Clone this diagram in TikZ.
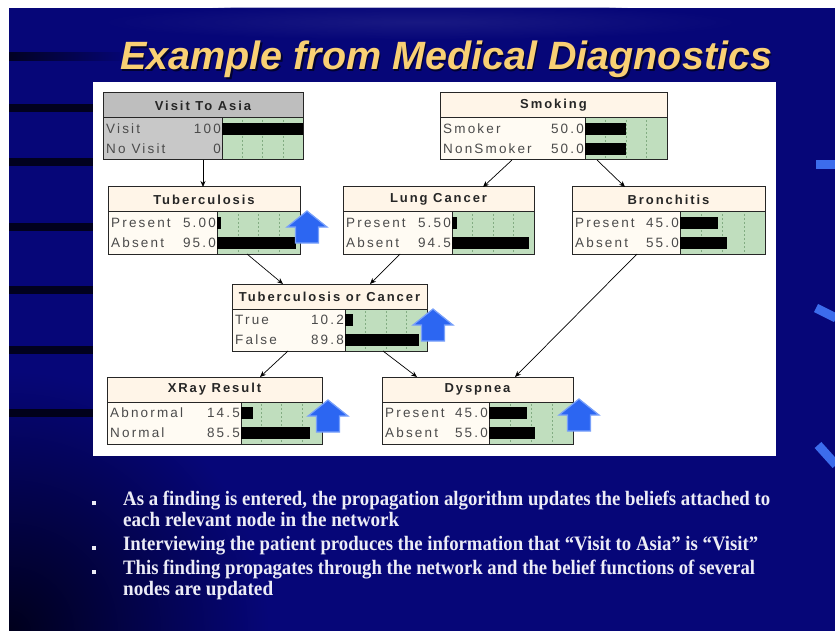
\documentclass[tikz,border=0pt]{standalone}
\usepackage{fontspec}
\usepackage{graphicx}
\usetikzlibrary{arrows.meta}
\setmainfont{Liberation Serif}
\newfontfamily\headfont{Liberation Sans}
\newfontfamily\nettitlefont[LetterSpace=15]{Liberation Sans}
\newfontfamily\netrowfont[LetterSpace=16]{Liberation Sans}

\definecolor{slide}{RGB}{6,6,120}
\definecolor{slidedark}{RGB}{0,0,28}
\definecolor{gold}{RGB}{249,208,116}
\definecolor{bullettext}{RGB}{236,236,246}
\definecolor{barbg}{RGB}{192,222,190}
\definecolor{gridgreen}{RGB}{130,172,130}
\definecolor{headcream}{RGB}{255,245,232}
\definecolor{labelcream}{RGB}{255,251,243}
\definecolor{headgray}{RGB}{190,190,190}
\definecolor{labelgray}{RGB}{200,200,200}
\definecolor{findblue}{RGB}{44,102,242}
\definecolor{findglow}{RGB}{120,160,250}
\definecolor{markblue}{RGB}{60,108,236}
\definecolor{rowgray}{RGB}{75,75,75}

\tikzset{
  netbox/.style={draw=black!85, line width=1pt, inner sep=0pt, outer sep=0pt, rectangle},
  netrule/.style={draw=black!85, line width=1pt},
  gridline/.style={draw=gridgreen, line width=0.5pt, dash pattern=on 2pt off 2pt},
  nettitle/.style={inner sep=0pt, text=black!85, font={\nettitlefont\bfseries\fontsize{13}{15}\selectfont}},
  rowtext/.style={inner sep=0pt, text=rowgray, font={\netrowfont\fontsize{13.5}{15}\selectfont}},
  conn/.style={draw=black, line width=0.7pt, -{Stealth[length=6pt,width=5pt]}},
  finding/.style={fill=findblue, draw=findglow, line width=1.2pt, line join=miter},
  headline/.style={inner sep=0pt, anchor=base west, font={\headfont\bfseries\itshape\fontsize{39.5}{44}\selectfont}},
  bulletline/.style={inner sep=0pt, anchor=mid west, text=bullettext, font={\bfseries\fontsize{20.5}{24}\selectfont}},
  stripe/.style={fill=black, opacity=0.75},
}

% #1 name, #2 left, #3 top, #4 right, #5 divider, #6 title, #7 head fill, #8 label fill
\newcommand\netnode[8]{%
  \fill[#7] (#2,#3) rectangle (#4,#3+25);
  \fill[#8] (#2,#3+25) rectangle (#5,#3+67);
  \fill[barbg] (#5,#3+25) rectangle (#4,#3+67);
  \foreach \q in {0.25,0.5,0.75}
    \draw[gridline] ({#5+\q*(#4-#5)},#3+27) -- ({#5+\q*(#4-#5)},#3+66);
  \node[netbox, minimum width={#4pt-#2pt}, minimum height=67pt, anchor=north west] (#1) at (#2,#3) {};
  \draw[netrule] (#2,#3+25) -- (#4,#3+25) (#5,#3+25) -- (#5,#3+67);
  \node[nettitle] (#1-title) at ({(#2+#4)/2},#3+12.5) {#6};
}
% #1 row name, #2 left, #3 divider, #4 right, #5 y, #6 label, #7 value, #8 fraction
\newcommand\netrow[8]{%
  \node[rowtext, anchor=west] (#1-label) at (#2+3,#5) {#6};
  \node[rowtext, anchor=east] (#1-value) at (#3-1,#5) {#7};
  \fill[black] (#3,#5-6) rectangle ({#3+#8*(#4-#3)},#5+6);
}
% upward block arrow with its tip at (#1,#2)
\newcommand\findarrow[2]{%
  \filldraw[finding] (#1,#2) -- (#1+20,#2+16) -- (#1+11.5,#2+16) -- (#1+11.5,#2+32)
    -- (#1-11.5,#2+32) -- (#1-11.5,#2+16) -- (#1-20,#2+16) -- cycle;
}

\begin{document}
\begin{tikzpicture}[x=1pt,y=-1pt]
\useasboundingbox (0,0) rectangle (835,631);
\fill[white] (0,0) rectangle (835,631);

% slide background
\fill[slide] (9,8) rectangle (835,631);
\begin{scope}
  \clip (9,8) rectangle (835,631);
  \shade[inner color=slidedark, outer color=slide] (9,631) circle (260);
  \shade[inner color=slide!75!white, outer color=slide, opacity=0.3] (420,22) ellipse (330 and 18);
  % dark stripes along the left edge
  \foreach \yy in {108,162,227,290,350,413}
    \fill[stripe] (9,\yy-4) rectangle (95,\yy+4);
  \shade[left color=black, right color=slide, opacity=0.7] (9,53) rectangle (130,61);
  % light marks on the right edge
  \draw[markblue, line width=9pt] (816,165) -- (836,165);
  \draw[markblue, line width=9pt] (816,308) -- (836,318);
  \draw[markblue, line width=9pt] (818,445) -- (836,465);
\end{scope}

% title
\node[headline, text=black, opacity=0.6] (headshadow) at (121.5,71.5) {Example from Medical Diagnostics};
\node[headline, text=gold] (head) at (120,70) {Example from Medical Diagnostics};

% white panel holding the network
\fill[white] (93,82) rectangle (776,456);

% network nodes
\netnode{asia}{103}{93}{303}{222}{Visit To Asia}{headgray}{labelgray}
\netrow{asia-r1}{103}{222}{303}{129}{Visit}{100}{1}
\netrow{asia-r2}{103}{222}{303}{149}{No Visit}{0}{0}

\netnode{smoke}{440}{93}{667}{585}{Smoking}{headcream}{labelcream}
\netrow{smoke-r1}{440}{585}{667}{129}{Smoker}{50.0}{0.5}
\netrow{smoke-r2}{440}{585}{667}{149}{NonSmoker}{50.0}{0.5}

\netnode{tub}{108}{187}{300}{217}{Tuberculosis}{headcream}{labelcream}
\netrow{tub-r1}{108}{217}{300}{223}{Present}{5.00}{0.05}
\netrow{tub-r2}{108}{217}{300}{243}{Absent}{95.0}{0.95}

\netnode{lung}{343}{187}{534}{452}{Lung Cancer}{headcream}{labelcream}
\netrow{lung-r1}{343}{452}{534}{223}{Present}{5.50}{0.055}
\netrow{lung-r2}{343}{452}{534}{243}{Absent}{94.5}{0.945}

\netnode{bron}{572}{187}{765}{680}{Bronchitis}{headcream}{labelcream}
\netrow{bron-r1}{572}{680}{765}{223}{Present}{45.0}{0.45}
\netrow{bron-r2}{572}{680}{765}{243}{Absent}{55.0}{0.55}

\netnode{tbc}{232}{284}{427}{345}{Tuberculosis or Cancer}{headcream}{labelcream}
\netrow{tbc-r1}{232}{345}{427}{320}{True}{10.2}{0.102}
\netrow{tbc-r2}{232}{345}{427}{340}{False}{89.8}{0.898}

\netnode{xray}{107}{377}{322}{241}{XRay Result}{headcream}{labelcream}
\netrow{xray-r1}{107}{241}{322}{413}{Abnormal}{14.5}{0.145}
\netrow{xray-r2}{107}{241}{322}{433}{Normal}{85.5}{0.855}

\netnode{dysp}{382}{377}{573}{489}{Dyspnea}{headcream}{labelcream}
\netrow{dysp-r1}{382}{489}{573}{413}{Present}{45.0}{0.45}
\netrow{dysp-r2}{382}{489}{573}{433}{Absent}{55.0}{0.55}

% dependencies
\draw[conn] (asia.south) -- (asia.south |- tub.north);
\draw[conn] ([xshift=-41.5pt]smoke.south) -- ([xshift=44.5pt]lung.north);
\draw[conn] ([xshift=43.5pt]smoke.south) -- ([xshift=-43.5pt]bron.north);
\draw[conn] ([xshift=43pt]tub.south) -- ([xshift=-46.5pt]tbc.north);
\draw[conn] ([xshift=-38.5pt]lung.south) -- ([xshift=40.5pt]tbc.north);
\draw[conn] ([xshift=-41.5pt]tbc.south) -- ([xshift=45.5pt]xray.north);
\draw[conn] ([xshift=53.5pt]tbc.south) -- ([xshift=-60.5pt]dysp.north);
\draw[conn] ([xshift=-31.5pt]bron.south) -- ([xshift=37.5pt]dysp.north);

% beliefs that went up after the finding
\findarrow{307}{211}
\findarrow{433}{309}
\findarrow{328}{400}
\findarrow{579}{399}

% bullet points
\foreach \yy in {503,548,572}
  \fill[bullettext] (92,\yy-2.5) rectangle (95.5,\yy+2);
\node[bulletline] (b1) at (123,503) {\resizebox{647pt}{\height}{As a finding is entered, the propagation algorithm updates the beliefs attached to}};
\node[bulletline] (b2) at (123,524) {\resizebox{276pt}{\height}{each relevant node in the network}};
\node[bulletline] (b3) at (123,548) {\resizebox{635pt}{\height}{Interviewing the patient produces the information that “Visit to Asia” is “Visit”}};
\node[bulletline] (b4) at (123,572) {\resizebox{632pt}{\height}{This finding propagates through the network and the belief functions of several}};
\node[bulletline] (b5) at (123,593) {\resizebox{150pt}{\height}{nodes are updated}};
\end{tikzpicture}
\end{document}
